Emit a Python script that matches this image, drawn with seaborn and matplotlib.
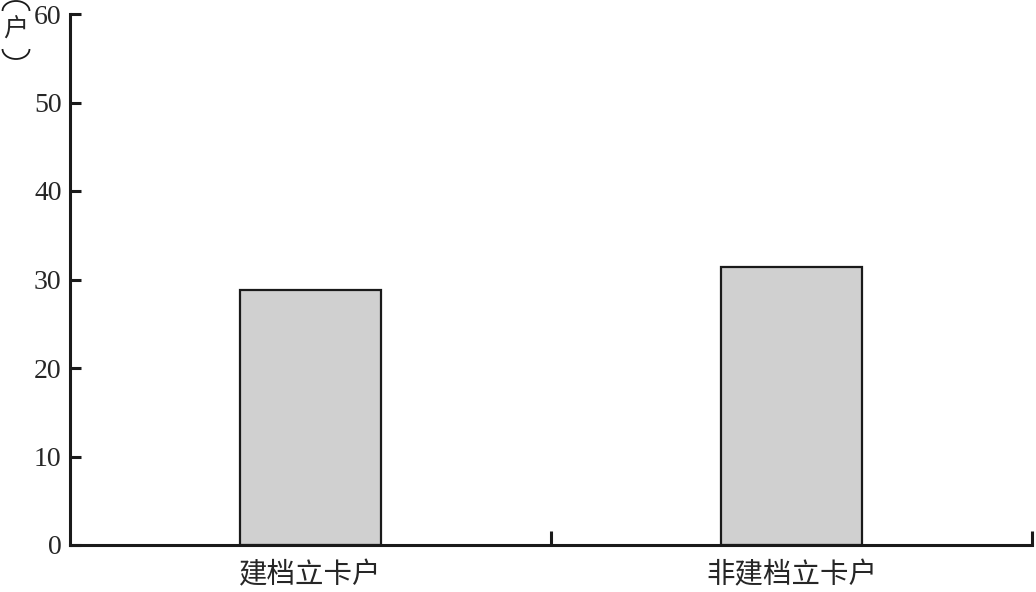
import matplotlib
matplotlib.use("Agg")
import matplotlib.pyplot as plt
import seaborn as sns
import pandas as pd
from matplotlib.ticker import FixedLocator
from matplotlib.patches import Arc

categories = ["建档立卡户", "非建档立卡户"]
values = [28.8, 31.4]
yticks = [0, 10, 20, 30, 40, 50, 60]

sns.set_style("ticks")
plt.rcParams['font.family'] = ['Liberation Serif', 'Noto Sans CJK SC', 'DejaVu Sans']

df = pd.DataFrame({"cat": categories, "val": values})

W, H = 1036, 592
fig = plt.figure(figsize=(W/100, H/100), dpi=100)
ax = fig.add_axes([70/W, 1-545/H, (1032-70)/W, (545-14)/H])

sns.barplot(data=df, x="cat", y="val", ax=ax, color="#d0d0d0",
            edgecolor="#1a1a1a", linewidth=1.6, width=0.295, saturation=1)

ax.set_xlim(-0.5, 1.5)
ax.set_ylim(0, 60)
ax.set_yticks(yticks)
ax.set_yticklabels([str(t) for t in yticks], fontsize=20, family=['Liberation Serif'])
ax.set_xlabel("")
ax.set_ylabel("")

for s in ["top", "right"]:
    ax.spines[s].set_visible(False)
for s in ["left", "bottom"]:
    ax.spines[s].set_linewidth(2.2)
    ax.spines[s].set_color("#1a1a1a")

ax.tick_params(axis="y", direction="in", length=8, width=2.2, color="#1a1a1a", pad=6)
ax.tick_params(axis="x", which="major", length=0, pad=11)
ax.xaxis.set_minor_locator(FixedLocator([0.5, 1.5]))
ax.tick_params(axis="x", which="minor", direction="in", length=10, width=2.2, color="#1a1a1a")
for lab in ax.get_xticklabels():
    lab.set_fontsize(20.5)
    lab.set_family(['Noto Sans CJK SC', 'DejaVu Sans'])

# vertical unit label （户）
fig.text(16/W, 1-29/H, "户", fontsize=18, family=['Noto Sans CJK SC'],
         ha="center", va="center")
fig.add_artist(Arc((16/W, 1-11/H), 27/W, 20/H, theta1=0, theta2=180,
                   transform=fig.transFigure, color="#1a1a1a", lw=1.3))
fig.add_artist(Arc((16/W, 1-49/H), 27/W, 20/H, theta1=180, theta2=360,
                   transform=fig.transFigure, color="#1a1a1a", lw=1.3))

fig.savefig("out.png", dpi=100)
